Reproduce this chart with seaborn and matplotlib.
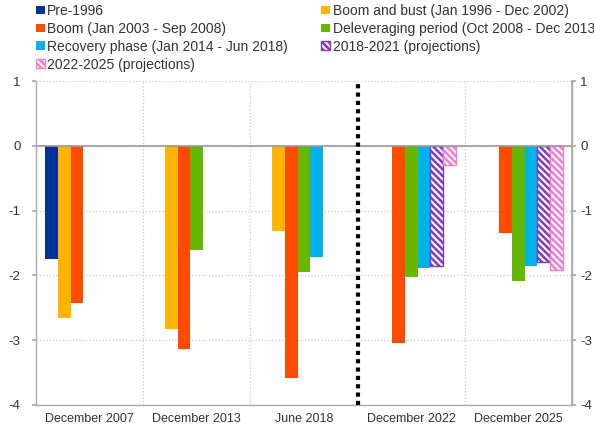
import pandas as pd
import numpy as np
import matplotlib
matplotlib.use("Agg")
import matplotlib.pyplot as plt
import seaborn as sns
from matplotlib.patches import Patch

# Data
periods = ["December 2007", "December 2013", "June 2018", "December 2022", "December 2025"]
series = ["Pre-1996",
          "Boom and bust (Jan 1996 - Dec 2002)",
          "Boom (Jan 2003 - Sep 2008)",
          "Deleveraging period (Oct 2008 - Dec 2013)",
          "Recovery phase (Jan 2014 - Jun 2018)",
          "2018-2021 (projections)",
          "2022-2025 (projections)"]
pre_1996 = [-1.74, np.nan, np.nan, np.nan, np.nan]
boom_bust = [-2.65, -2.82, -1.31, np.nan, np.nan]
boom = [-2.43, -3.13, -3.58, -3.05, -1.34]
deleveraging = [np.nan, -1.60, -1.95, -2.03, -2.09]
recovery = [np.nan, np.nan, -1.72, -1.89, -1.85]
proj_2018_2021 = [np.nan, np.nan, np.nan, -1.85, -1.80]
proj_2022_2025 = [np.nan, np.nan, np.nan, -0.29, -1.91]
colors = ["#003299", "#FFB400", "#FF4B00", "#65B800", "#00B1EA", "#8139C6", "#F47CD0"]
hatched = [False, False, False, False, False, True, True]

values = [pre_1996, boom_bust, boom, deleveraging, recovery, proj_2018_2021, proj_2022_2025]
rows = []
for s, vals in zip(series, values):
    for p, v in zip(periods, vals):
        rows.append({"period": p, "series": s, "value": v})
df = pd.DataFrame(rows).dropna()

sns.set_theme(style="white")
plt.rcParams["font.family"] = ["Liberation Sans", "DejaVu Sans"]
plt.rcParams["axes.unicode_minus"] = False
plt.rcParams["hatch.linewidth"] = 1.8
HATCH = "\\\\\\\\\\"

fig = plt.figure(figsize=(5.94, 4.29), dpi=100)
ax = fig.add_axes([0.0606, 0.056, 0.9024, 0.755])

sns.barplot(data=df, x="period", y="value", hue="series", order=periods, hue_order=series,
            palette=colors, saturation=1, width=0.83, dodge=True, linewidth=0, legend=False, ax=ax)

# projections: white bars with coloured diagonal stripes
for cont, col, h in zip(ax.containers, colors, hatched):
    for bar in cont:
        if h:
            bar.set_facecolor("white")
            bar.set_edgecolor(col)
            bar.set_hatch(HATCH)
            bar.set_linewidth(1.0)

ax.set_ylim(-4, 1)
ax.set_xlim(-0.5, 4.5)
ax.set_yticks([-4, -3, -2, -1, 0, 1])
ax.set_xticks([0.5, 1.5, 3.5], minor=True)
ax.grid(True, which="minor", axis="x", color="#c8c8c8", linestyle=":", linewidth=0.9)
ax.grid(True, which="major", axis="y", color="#c8c8c8", linestyle=":", linewidth=0.9)
ax.set_axisbelow(True)
ax.axhline(0, color="#999999", linewidth=1.2, zorder=1)
ax.axvline(2.5, color="black", linestyle=(0, (1, 1)), linewidth=3, zorder=5, clip_on=False)

ax.set_xlabel("")
ax.set_ylabel("")
for side in ["left", "right", "bottom"]:
    ax.spines[side].set_color("#aaaaaa")
    ax.spines[side].set_linewidth(1)
ax.spines["top"].set_visible(False)
ax.tick_params(axis="x", which="both", length=0, labelsize=9, labelcolor="#333333", pad=6)
ax.tick_params(axis="y", left=True, right=False, length=3,
               color="#aaaaaa", labelsize=9.5, labelcolor="#333333", pad=8)

# mirrored y labels on the right
ax2 = ax.twinx()
ax2.set_ylim(ax.get_ylim())
ax2.set_yticks([-4, -3, -2, -1, 0, 1])
ax2.tick_params(axis="y", length=3, color="#aaaaaa", labelsize=9.5, labelcolor="#333333", pad=3)
ax2.grid(False)
for side in ["left", "top", "bottom"]:
    ax2.spines[side].set_visible(False)
ax2.spines["right"].set_color("#aaaaaa")

handles = [Patch(facecolor="white" if h else c, edgecolor=c, hatch=HATCH if h else None,
                 linewidth=1 if h else 0) for c, h in zip(colors, hatched)]
order = [0, 2, 4, 6, 1, 3, 5]
fig.legend([handles[i] for i in order], [series[i] for i in order], ncol=2,
           loc="upper left", bbox_to_anchor=(0.04, 1.02), frameon=False, fontsize=10,
           handlelength=0.6, handleheight=0.6, handletextpad=0.2, labelspacing=0.28,
           columnspacing=2.4, labelcolor="#333333")

fig.savefig("out.png", dpi=100)
